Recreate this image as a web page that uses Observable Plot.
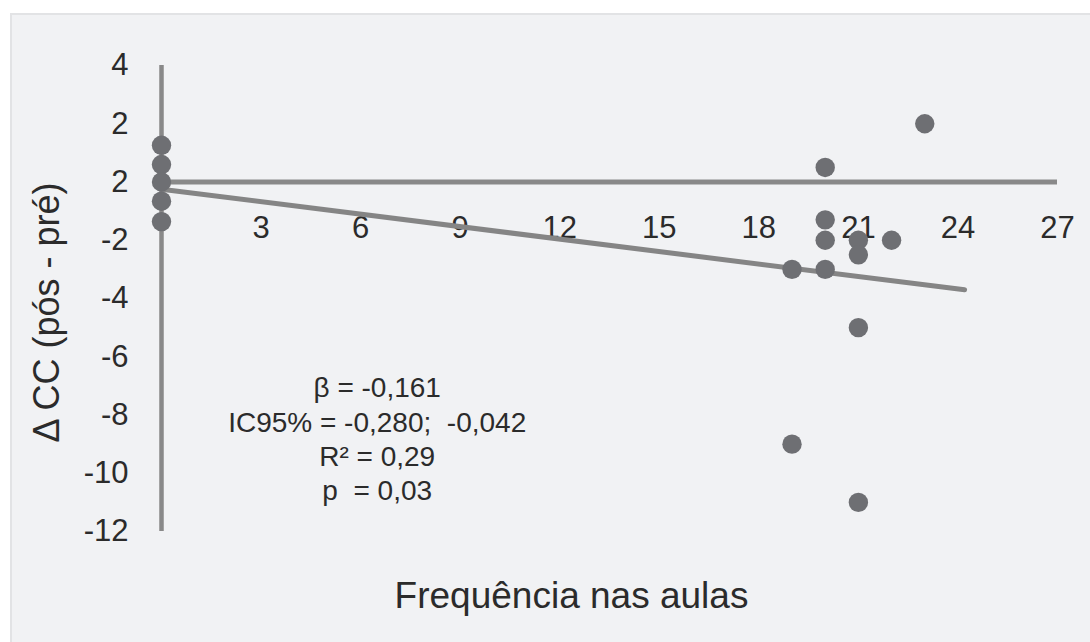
<!DOCTYPE html>
<html>
<head>
<meta charset="utf-8">
<script src="https://cdn.jsdelivr.net/npm/d3@7"></script>
<script src="https://cdn.jsdelivr.net/npm/@observablehq/plot@0.6"></script>
<style>
  html, body { margin: 0; padding: 0; background: #ffffff; width: 1090px; height: 642px; overflow: hidden; }
  #panel { position: absolute; left: 10px; top: 13px; width: 1080px; height: 629px; background: #f1f2f4; border-left: 2px solid #e2e3e5; border-top: 2px solid #e2e3e5; box-sizing: border-box; }
  #chart { position: absolute; left: 0; top: 0; }
  #chart svg { background: transparent; }
</style>
</head>
<body>
<div id="panel"></div>
<div id="chart"></div>
<script>
// Data
const frequencia = [0, 0, 0, 0, 0, 23, 20, 20, 20, 21, 21, 22, 19, 20, 21, 19, 21];
const deltaCC    = [1.26, 0.6, 0, -0.66, -1.36, 2, 0.5, -1.3, -2, -2, -2.5, -2, -3, -3, -5, -9, -11];

// Fitted trend line (endpoints as drawn)
const trendX = [0, 24.2];
const trendY = [-0.25, -3.7];

// Axis ticks and labels as shown
const yTicks = [4, 2, 0, -2, -4, -6, -8, -10, -12];
const yTickLabels = ["4", "2", "2", "-2", "-4", "-6", "-8", "-10", "-12"];
const xTicks = [3, 6, 9, 12, 15, 18, 21, 24, 27];
const xTickLabels = ["3", "6", "9", "12", "15", "18", "21", "24", "27"];

const statsLines = ["\u03B2 = -0,161", "IC95% = -0,280;  -0,042", "R\u00B2 = 0,29", "p  = 0,03"];
const statsPos = {x: 6.5, y: -8.78};

const xTitle = "Frequência nas aulas";
const yTitle = "\u0394 CC (pós - pré)";

const points = frequencia.map((f, i) => ({f, d: deltaCC[i]}));
const trend = trendX.map((x, i) => ({x, y: trendY[i]}));
const xTickData = xTicks.map((t, i) => ({t, label: xTickLabels[i]}));

const axisColor = "#898989";
const textColor = "#2b2b2b";

const chart = Plot.plot({
  width: 1090,
  height: 642,
  marginLeft: 161,
  marginRight: 33,
  marginTop: 65,
  marginBottom: 111,
  style: {fontFamily: "'Liberation Sans', Arial, sans-serif", background: "transparent", color: textColor},
  x: {domain: [0, 27], axis: null},
  y: {domain: [-12, 4], axis: null},
  marks: [
    Plot.axisY(yTicks, {
      tickSize: 0,
      tickPadding: 33,
      fontSize: 31,
      fill: textColor,
      tickFormat: (d) => yTickLabels[yTicks.indexOf(d)],
      label: null
    }),
    Plot.text(xTickData, {x: "t", y: () => 0, text: "label", dy: 46, fontSize: 31, fill: textColor}),
    Plot.ruleX([0], {y1: -12, y2: 4, stroke: axisColor, strokeWidth: 4.5}),
    Plot.ruleY([0], {x1: 0, x2: 27, stroke: axisColor, strokeWidth: 5}),
    Plot.line(trend, {x: "x", y: "y", stroke: "#858585", strokeWidth: 5}),
    Plot.dot(points, {x: "f", y: "d", r: 9.7, fill: "#6e6f73", stroke: "none"}),
    Plot.text([statsLines.join("\n")], {
      x: () => statsPos.x, y: () => statsPos.y,
      text: (d) => d, fontSize: 28, lineHeight: 1.23, fill: textColor, textAnchor: "middle"
    }),
    Plot.text([xTitle], {frameAnchor: "bottom", text: (d) => d, dx: -38, dy: 76, fontSize: 37, fill: textColor}),
    Plot.text([yTitle], {frameAnchor: "left", text: (d) => d, rotate: -90, textAnchor: "middle", dx: -114, dy: 14, fontSize: 36, fill: textColor})
  ]
});
document.getElementById("chart").appendChild(chart);
</script>
</body>
</html>
